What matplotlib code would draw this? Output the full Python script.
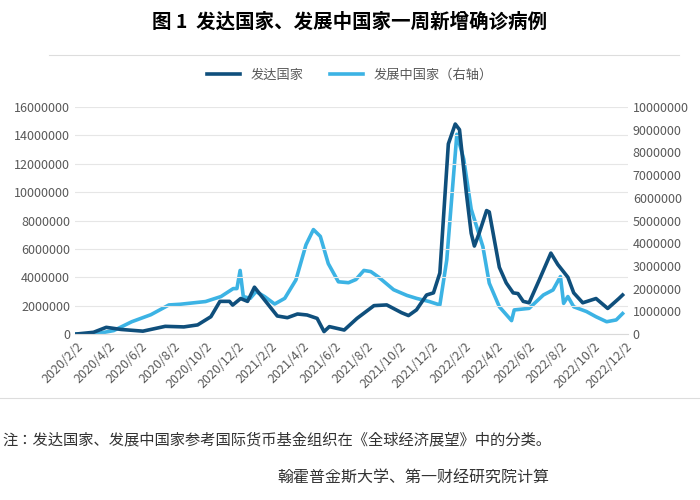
import matplotlib
matplotlib.use("Agg")
import matplotlib.pyplot as plt
import pandas as pd

plt.rcParams["font.family"] = "sans-serif"
plt.rcParams["font.sans-serif"] = ["Noto Sans CJK SC", "Noto Sans CJK JP", "DejaVu Sans"]
plt.rcParams["axes.unicode_minus"] = False

dev_dates = ["2020-02-02","2020-03-05","2020-03-29","2020-04-26","2020-06-06","2020-07-18","2020-08-22",
    "2020-09-17","2020-10-12","2020-10-29","2020-11-16","2020-11-22","2020-12-07","2020-12-20",
    "2021-01-02","2021-01-21","2021-02-14","2021-03-05","2021-03-24","2021-04-11","2021-04-30",
    "2021-05-13","2021-05-23","2021-06-20","2021-07-14","2021-08-15","2021-09-08","2021-10-06",
    "2021-10-19","2021-11-03","2021-11-22","2021-12-05","2021-12-17","2022-01-02","2022-01-15",
    "2022-01-23","2022-02-05","2022-02-14","2022-02-20","2022-03-01","2022-03-15","2022-03-20",
    "2022-04-08","2022-04-21","2022-05-04","2022-05-13","2022-05-23","2022-06-03","2022-06-22",
    "2022-07-14","2022-07-27","2022-08-15","2022-08-26","2022-09-12","2022-10-07","2022-10-29",
    "2022-11-19","2022-11-26"]
dev_vals = [0,0.12,0.47,0.32,0.2,0.54,0.5,0.64,1.22,2.3,2.3,2.04,2.5,2.3,3.3,2.4,1.27,1.15,1.41,1.34,1.1,
    0.17,0.52,0.28,1.1,2.0,2.05,1.5,1.3,1.7,2.75,2.9,4.3,13.4,14.8,14.4,9.9,7.1,6.2,7.1,8.7,8.6,
    4.7,3.6,2.9,2.85,2.3,2.2,3.8,5.7,4.9,4.0,2.9,2.2,2.5,1.8,2.5,2.75]

dvl_dates = ["2020-02-02","2020-03-08","2020-04-12","2020-05-16","2020-06-21","2020-07-25","2020-08-15",
    "2020-10-02","2020-10-31","2020-11-23","2020-11-30","2020-12-06","2020-12-12","2020-12-25",
    "2021-01-05","2021-01-21","2021-02-09","2021-02-28","2021-03-21","2021-04-09","2021-04-23",
    "2021-05-06","2021-05-21","2021-06-09","2021-06-28","2021-07-12","2021-07-27","2021-08-09",
    "2021-08-24","2021-09-21","2021-10-16","2021-11-03","2021-11-27","2021-12-17","2021-12-30",
    "2022-01-18","2022-01-31","2022-02-14","2022-03-08","2022-03-20","2022-04-08","2022-05-01",
    "2022-05-06","2022-06-03","2022-06-30","2022-07-18","2022-08-01","2022-08-07","2022-08-15",
    "2022-08-26","2022-09-19","2022-10-07","2022-10-27","2022-11-14","2022-11-26"]
dvl_vals = [0,0,0.15,0.54,0.85,1.28,1.31,1.43,1.65,2.0,2.0,2.8,1.65,1.57,1.87,1.65,1.32,1.57,2.38,3.93,4.6,
    4.3,3.1,2.3,2.26,2.4,2.8,2.75,2.5,1.95,1.7,1.57,1.43,1.28,3.26,8.8,7.7,5.5,3.85,2.24,1.2,0.59,
    1.06,1.13,1.72,1.94,2.53,1.35,1.65,1.2,0.99,0.76,0.54,0.62,0.9]

tick_dates = ["2020-02-02","2020-04-02","2020-06-02","2020-08-02","2020-10-02","2020-12-02",
    "2021-02-02","2021-04-02","2021-06-02","2021-08-02","2021-10-02","2021-12-02",
    "2022-02-02","2022-04-02","2022-06-02","2022-08-02","2022-10-02","2022-12-02"]
tick_labels = [f"{d.year}/{d.month}/{d.day}" for d in pd.to_datetime(tick_dates)]

dark = "#0f4f7c"
light = "#3cb3e4"
gray = "#595959"

fig = plt.figure(figsize=(7, 5), dpi=100)
ax = fig.add_axes([0.107, 0.332, 0.79, 0.454])
ax2 = ax.twinx()

l1, = ax.plot(pd.to_datetime(dev_dates), [v * 1e6 for v in dev_vals], color=dark, lw=2.6)
l2, = ax2.plot(pd.to_datetime(dvl_dates), [v * 1e6 for v in dvl_vals], color=light, lw=2.6)
ax.set_zorder(ax2.get_zorder() + 1)
ax.patch.set_visible(False)

ax.set_ylim(0, 16e6)
ax2.set_ylim(0, 10e6)
ax.set_yticks([i * 2e6 for i in range(9)])
ax.set_yticklabels([f"{i*2000000}" for i in range(9)])
ax2.set_yticks([i * 1e6 for i in range(11)])
ax2.set_yticklabels([f"{i*1000000}" for i in range(11)])
ax.set_xlim(pd.Timestamp("2020-01-30"), pd.Timestamp("2022-12-06"))
ax.set_xticks(pd.to_datetime(tick_dates))
ax.set_xticklabels(tick_labels, rotation=45, ha="right", rotation_mode="anchor")
ax.grid(axis="y", color="#e6e6e6", lw=0.8)
ax.set_axisbelow(True)
for a in (ax, ax2):
    for s in a.spines.values():
        s.set_visible(False)
    a.tick_params(length=0, colors=gray, labelsize=9)
ax.spines["bottom"].set_visible(True)
ax.spines["bottom"].set_color("#d9d9d9")
ax.tick_params(axis="x", pad=4)

fig.legend([l1, l2], ["发达国家", "发展中国家（右轴）"], loc="center", bbox_to_anchor=(0.5, 0.85),
           ncol=2, frameon=False, fontsize=9.5, labelcolor=gray, handlelength=2.5)

fig.text(0.5, 0.955, "图 1  发达国家、发展中国家一周新增确诊病例", ha="center", va="center",
         fontsize=14, fontweight="bold")
fig.add_artist(plt.Line2D([0.07, 0.97], [0.89, 0.89], color="#dddddd", lw=0.8))
fig.add_artist(plt.Line2D([0.0, 1.0], [0.205, 0.205], color="#dddddd", lw=0.8))
fig.text(0.003, 0.12, "注：发达国家、发展中国家参考国际货币基金组织在《全球经济展望》中的分类。",
         ha="left", va="center", fontsize=11, color="#333333")
fig.text(0.59, 0.045, "翰霍普金斯大学、第一财经研究院计算", ha="center", va="center",
         fontsize=11.5, color="#333333")

fig.savefig("out.png", dpi=100)
